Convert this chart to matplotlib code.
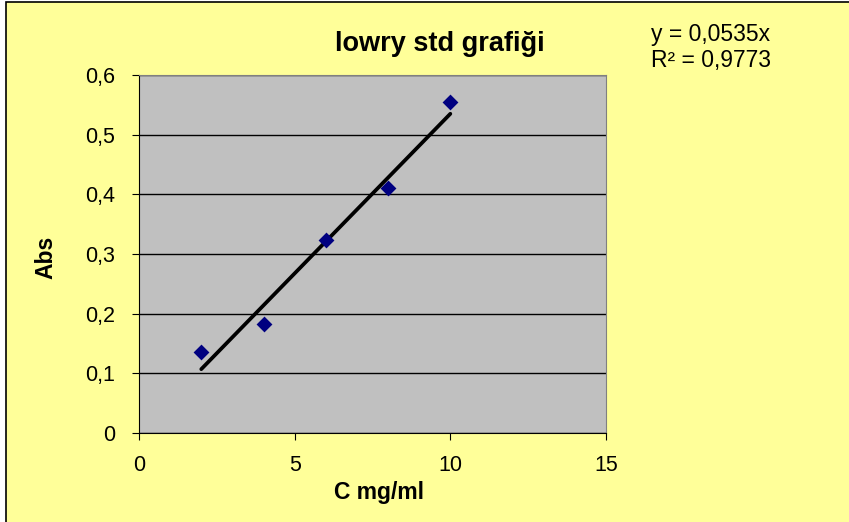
import matplotlib
matplotlib.use("Agg")
import matplotlib.pyplot as plt
import numpy as np
from matplotlib.patches import Rectangle

# data
conc = [2, 4, 6, 8, 10]
absorb = [0.136, 0.182, 0.323, 0.410, 0.554]
slope = 0.0535
r2 = 0.9773

xticks = [0, 5, 10, 15]
yticks = [0, 0.1, 0.2, 0.3, 0.4, 0.5, 0.6]
ytick_labels = ["0", "0,1", "0,2", "0,3", "0,4", "0,5", "0,6"]

plt.rcParams["font.family"] = ["Liberation Sans", "DejaVu Sans"]

W, H = 849, 522
fig = plt.figure(figsize=(W / 100, H / 100), dpi=100)
fig.patch.set_facecolor("white")
fig.patches.append(Rectangle((6 / W, -0.01), 1.0, 1 - 2 / H + 0.01, transform=fig.transFigure,
                             facecolor="#FFFF99", edgecolor="black", linewidth=1.2, zorder=-10))

ax = fig.add_axes([139 / W, 1 - 433 / H, (606 - 139) / W, (433 - 75) / H])
ax.set_facecolor("#C0C0C0")
for s in ax.spines.values():
    s.set_color("#808080")
ax.spines["left"].set_color("black")
ax.spines["bottom"].set_color("black")

ax.set_xlim(0, 15)
ax.set_ylim(0, 0.6)
ax.set_xticks(xticks)
ax.set_xticklabels([str(t) for t in xticks])
ax.set_yticks(yticks)
ax.set_yticklabels(ytick_labels)
ax.tick_params(axis="both", labelsize=15.5, direction="out", length=5, color="black")
ax.tick_params(axis="x", pad=11)
ax.tick_params(axis="y", pad=12)
ax.yaxis.grid(True, color="black", linewidth=1)
ax.set_axisbelow(True)

xfit = np.array([min(conc), max(conc)])
ax.plot(xfit, slope * xfit, color="black", linewidth=2.7, solid_capstyle="round", zorder=3)
ax.scatter(conc, absorb, marker="D", s=65, color="#000080", zorder=4, linewidths=0)

fig.text(440 / W, 1 - 44 / H, "lowry std grafiği", fontsize=19.5, fontweight="bold",
         ha="center", va="center")
fig.text(379 / W, 1 - 493 / H, "C mg/ml", fontsize=16.5, fontweight="bold",
         ha="center", va="center")
fig.text(46 / W, 1 - 257 / H, "Abs", fontsize=16.5, fontweight="bold",
         ha="center", va="center", rotation=90)

fig.text(651 / W, 1 - 34 / H, f"y = {slope:.4f}x".replace(".", ","), fontsize=16.5, va="center")
fig.text(651 / W, 1 - 60 / H, f"R² = {r2:.4f}".replace(".", ","), fontsize=16.5, va="center")

fig.savefig("out.png", dpi=100)
